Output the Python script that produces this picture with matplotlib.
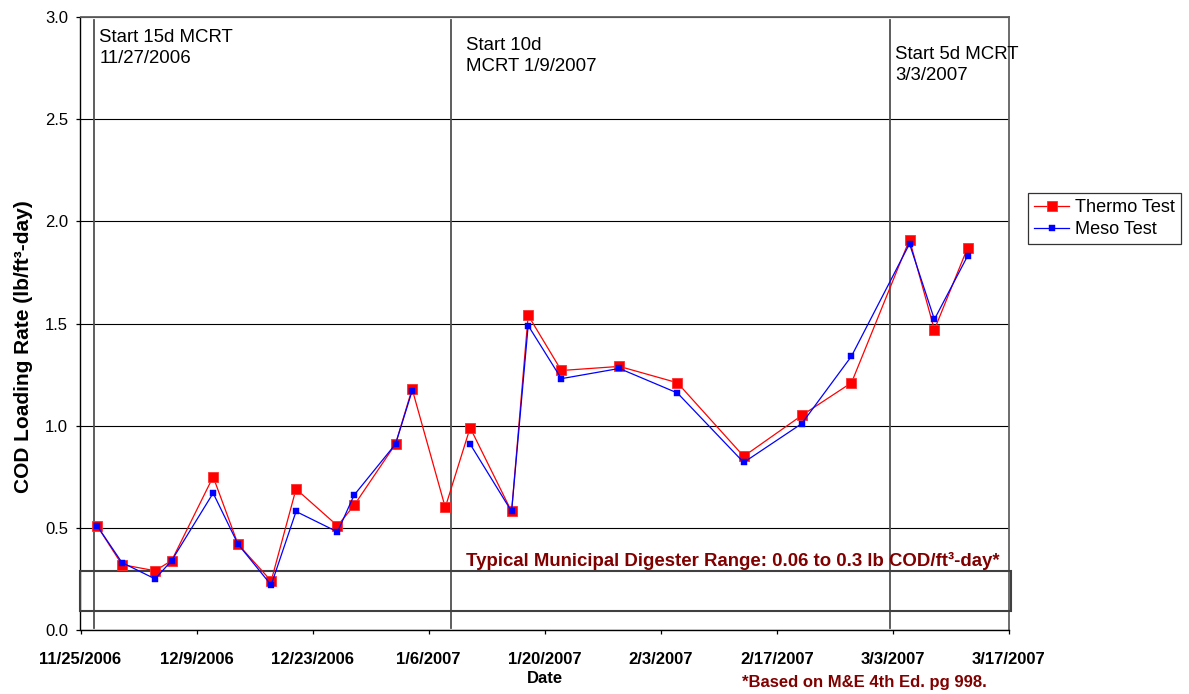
import matplotlib
matplotlib.use('Agg')
import matplotlib.pyplot as plt
import matplotlib.dates as mdates
import matplotlib.transforms as mtransforms
from matplotlib.patches import Rectangle
from matplotlib.ticker import FuncFormatter
import numpy as np
import pandas as pd

plt.rcParams['font.family'] = ['Liberation Sans', 'DejaVu Sans']

# ---------------- data ----------------
sample_dates = ['2006-11-27', '2006-11-30', '2006-12-04', '2006-12-06', '2006-12-11',
                '2006-12-14', '2006-12-18', '2006-12-21', '2006-12-26', '2006-12-28',
                '2007-01-02', '2007-01-04', '2007-01-08', '2007-01-11', '2007-01-16',
                '2007-01-18', '2007-01-22', '2007-01-29', '2007-02-05', '2007-02-13',
                '2007-02-20', '2007-02-26', '2007-03-05', '2007-03-08', '2007-03-12']
thermo = [0.51, 0.32, 0.29, 0.34, 0.75, 0.42, 0.24, 0.69, 0.51, 0.61,
          0.91, 1.18, 0.60, 0.99, 0.58, 1.54, 1.27, 1.29, 1.21, 0.85,
          1.05, 1.21, 1.91, 1.47, 1.87]
meso = [0.51, 0.33, 0.25, 0.34, 0.67, 0.42, 0.22, 0.58, 0.48, 0.66,
        0.91, 1.17, np.nan, 0.91, 0.58, 1.49, 1.23, 1.28, 1.16, 0.82,
        1.01, 1.34, 1.89, 1.52, 1.83]
series_names = ['Thermo Test', 'Meso Test']

event_dates = ['2006-11-27', '2007-01-09', '2007-03-03']
event_labels = ['Start 15d MCRT\n11/27/2006', 'Start 10d\nMCRT 1/9/2007', 'Start 5d MCRT\n3/3/2007']

x_range = ['2006-11-25', '2007-03-17']
tick_step_days = 14
y_ticks = [0.0, 0.5, 1.0, 1.5, 2.0, 2.5, 3.0]
band = [0.095, 0.29]
band_text = 'Typical Municipal Digester Range: 0.06 to 0.3 lb COD/ft\u00b3-day*'
footnote = '*Based on M&E 4th Ed. pg 998.'
y_label = 'COD Loading Rate (lb/ft\u00b3-day)'
x_label = 'Date'

# ---------------- figure ----------------
W, H = 1189, 694
fig = plt.figure(figsize=(W / 100, H / 100), dpi=100)
L, R, T, B = 80.5, 1009, 17, 630
ax = fig.add_axes([L / W, 1 - B / H, (R - L) / W, (B - T) / H])

x = pd.to_datetime(sample_dates)
dark_red = '#800000'

ax.plot(x, thermo, color='#FF0000', lw=0.9, marker='s', ms=7.4,
        mfc='#FF0000', mec='#FF3030', mew=0.6, label=series_names[0], zorder=4)
ax.plot(x, meso, color='#0000FF', lw=0.9, marker='s', ms=4.4,
        mfc='#0000FF', mec='#0000FF', mew=0.3, label=series_names[1], zorder=5)

x0, x1 = pd.to_datetime(x_range)
ax.set_xlim(x0, x1)
ax.set_ylim(y_ticks[0], y_ticks[-1])
ax.set_yticks(y_ticks)
ax.yaxis.set_major_formatter(FuncFormatter(lambda v, p: f'{v:.1f}'))
ax.set_xticks(pd.date_range(x0, x1, freq=f'{tick_step_days}D'))
ax.xaxis.set_major_formatter(FuncFormatter(
    lambda v, p: (lambda d: f'{d.month}/{d.day}/{d.year}')(mdates.num2date(v))))

ax.yaxis.grid(True, color='black', lw=0.8, zorder=1)
ax.set_axisbelow(True)

ax.tick_params(axis='both', direction='out', length=3, width=0.9, labelsize=12)
ax.tick_params(axis='x', pad=12.5)
ax.tick_params(axis='y', pad=6)
for lab in ax.get_xticklabels():
    lab.set_fontweight('bold')

for side in ['left', 'bottom']:
    ax.spines[side].set_color('black')
    ax.spines[side].set_linewidth(1.0)
for side in ['top', 'right']:
    ax.spines[side].set_color('#606060')
    ax.spines[side].set_linewidth(1.3)

# event lines and labels
ev = pd.to_datetime(event_dates) - pd.Timedelta(hours=8)
text_dx = [5, 15, 5]
text_top = [0.980, 0.967, 0.952]
for d, lab, dx, ty in zip(ev, event_labels, text_dx, text_top):
    ax.axvline(d, ymin=0.004, ymax=0.995, color='#505050', lw=1.3, zorder=2)
    ax.annotate(lab, xy=(mdates.date2num(d), ty),
                xycoords=('data', 'axes fraction'),
                xytext=(dx, 0), textcoords='offset pixels',
                ha='left', va='top', fontsize=13.4, linespacing=1.3, zorder=6)

# typical range band
trans = mtransforms.blended_transform_factory(ax.transAxes, ax.transData)
ax.add_patch(Rectangle((0, band[0]), 1.0025, band[1] - band[0], transform=trans,
                       fill=False, edgecolor='#404040', lw=1.5, clip_on=False, zorder=3))
ax.text((465.6 - L) / (R - L), (B - 566) / (B - T), band_text, transform=ax.transAxes,
        ha='left', va='baseline', fontsize=13.4, fontweight='bold', color=dark_red, zorder=6)

# axis labels
ax.set_xlabel(x_label, fontsize=12, fontweight='bold')
ax.xaxis.label.set_va('baseline')
ax.xaxis.set_label_coords(0.5, (B - 683.3) / (B - T))
ax.set_ylabel(y_label, fontsize=15, fontweight='bold')
ax.yaxis.label.set_va('baseline')
ax.yaxis.set_label_coords((29 - L) / (R - L), (B - 347) / (B - T))

fig.text(741.7 / W, 1 - 686.7 / H, footnote, ha='left', va='baseline',
         fontsize=12, fontweight='bold', color=dark_red)

leg = ax.legend(loc='upper left', bbox_to_anchor=(1028 / W, 1 - 193 / H),
                bbox_transform=fig.transFigure, borderaxespad=0, fontsize=13.1,
                fancybox=False, frameon=True, edgecolor='black', handlelength=1.95,
                handletextpad=0.3, borderpad=0.33, labelspacing=0.3)
leg.get_frame().set_linewidth(0.9)

fig.savefig('out.png', dpi=100)
